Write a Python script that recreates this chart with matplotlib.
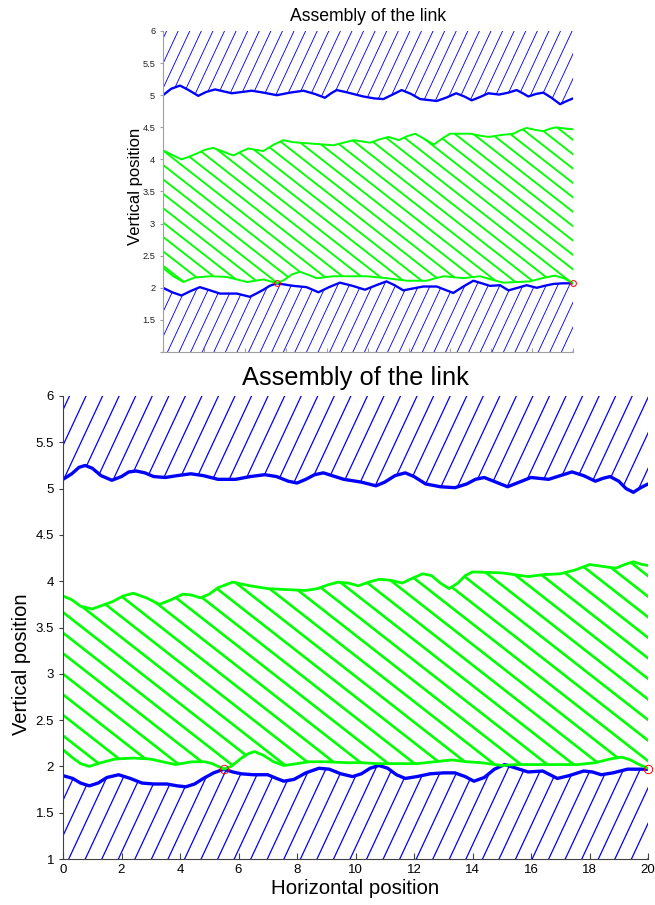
import numpy as np
import matplotlib.pyplot as plt
from matplotlib.collections import LineCollection

plt.rcParams['font.family'] = ['Liberation Sans', 'DejaVu Sans']

# ---- small figure (top) ----
top_hi_x = [0, 0.4, 0.83, 1.25, 1.72, 2.1, 2.54, 2.95, 3.35, 3.85, 4.33, 4.9, 5.55, 6.2, 6.85,
            7.4, 7.9, 8.2, 8.47, 8.9, 9.77, 10.3, 10.75, 11.2, 11.64, 12.1, 12.54, 13.35, 13.8,
            14.3, 14.7, 15.06, 15.45, 15.87, 16.4, 16.85, 17.25, 17.55, 17.82, 18.2, 18.55,
            18.95, 19.37, 19.7, 20]
top_hi_y = [5.0, 5.10, 5.15, 5.08, 4.99, 5.05, 5.09, 5.06, 5.03, 5.05, 5.07, 5.04, 5.0, 5.04, 5.07,
            5.02, 4.96, 5.03, 5.08, 5.05, 4.98, 4.95, 4.94, 5.01, 5.08, 5.02, 4.94, 4.91, 4.96,
            5.03, 4.98, 4.92, 4.97, 5.03, 5.01, 5.04, 5.08, 5.03, 4.98, 5.02, 5.04,
            4.96, 4.86, 4.91, 4.95]

top_gup_x = [0, 0.45, 0.9, 1.25, 1.64, 2.05, 2.45, 2.95, 3.43, 3.8, 4.16, 4.5, 4.89, 5.4, 5.87,
             6.3, 6.68, 7.5, 8.3, 8.8, 9.3, 9.7, 10.1, 10.55, 11.0, 11.5, 11.9, 12.3, 12.75,
             13.2, 13.6, 14.0, 15.0, 15.45, 15.9, 16.5, 17.1, 17.4, 17.74, 18.15, 18.55, 18.9,
             19.2, 19.6, 20]
top_gup_y = [4.14, 4.07, 4.0, 4.04, 4.09, 4.15, 4.18, 4.12, 4.06, 4.12, 4.17, 4.15, 4.13, 4.23, 4.30,
             4.27, 4.26, 4.24, 4.22, 4.26, 4.30, 4.28, 4.26, 4.31, 4.35, 4.30, 4.36, 4.40, 4.32,
             4.23, 4.32, 4.40, 4.40, 4.37, 4.35, 4.38, 4.40, 4.45, 4.49, 4.46, 4.44, 4.48,
             4.50, 4.48, 4.47]

top_glo_x = [0, 0.5, 1.0, 1.3, 1.56, 2.3, 3.1, 3.6, 4.1, 4.5, 4.9, 5.25, 5.55, 5.9, 6.3, 6.68,
             7.1, 7.5, 8.3, 9.93, 10.9, 11.9, 12.86, 13.3, 13.7, 14.65, 15.46, 16.0, 16.6, 17.9,
             18.5, 19.1, 19.55, 20]
top_glo_y = [2.31, 2.18, 2.09, 2.13, 2.16, 2.18, 2.17, 2.13, 2.09, 2.11, 2.13, 2.10, 2.07, 2.12, 2.21, 2.25,
             2.20, 2.15, 2.18, 2.18, 2.15, 2.11, 2.11, 2.15, 2.18, 2.15, 2.18, 2.13, 2.08, 2.10,
             2.15, 2.19, 2.15, 2.07]

top_lo_x = [0, 0.45, 0.9, 1.35, 1.8, 2.3, 2.78, 3.6, 4.24, 4.55, 4.9, 5.2, 5.55, 5.95, 6.36, 7.0,
            7.3, 7.58, 8.1, 8.63, 9.25, 9.85, 10.4, 10.9, 11.3, 11.72, 12.2, 12.7, 13.35, 13.75,
            14.16, 14.65, 15.14, 15.55, 15.95, 16.44, 16.85, 17.3, 17.74, 18.23, 18.6, 19.04,
            19.5, 20]
top_lo_y = [2.0, 1.93, 1.88, 1.95, 2.01, 1.96, 1.91, 1.91, 1.86, 1.91, 1.97, 2.03, 2.07, 2.05, 2.03, 2.01,
            1.97, 1.93, 2.01, 2.08, 2.03, 1.97, 2.04, 2.10, 2.04, 1.96, 1.99, 2.02, 2.02, 1.97,
            1.92, 2.02, 2.11, 2.07, 2.03, 2.04, 1.96, 2.0, 2.04, 2.0, 2.03, 2.06,
            2.07, 2.07]

top_mark_x = [5.55, 20]
top_mark_y = [2.07, 2.07]

# ---- large figure (bottom) ----
bot_hi_x = [0, 0.3, 0.55, 0.76, 1.0, 1.3, 1.67, 2.0, 2.25, 2.5, 2.8, 3.1, 3.5, 3.9, 4.37, 4.8,
            5.3, 5.9, 6.4, 6.9, 7.3, 7.7, 8.0, 8.3, 8.6, 8.9, 9.2, 9.6, 10.2, 10.7, 11.0, 11.35,
            11.7, 12.0, 12.4, 12.9, 13.4, 13.8, 14.1, 14.4, 14.8, 15.2, 15.6, 16.0, 16.6, 17.0,
            17.4, 17.8, 18.2, 18.45, 18.7, 19.0, 19.25, 19.5, 19.75, 20]
bot_hi_y = [5.10, 5.16, 5.23, 5.25, 5.22, 5.14, 5.09, 5.13, 5.18, 5.19, 5.17, 5.13, 5.12, 5.14, 5.16, 5.14,
            5.10, 5.10, 5.13, 5.15, 5.13, 5.08, 5.06, 5.10, 5.15, 5.17, 5.14, 5.10, 5.07, 5.03, 5.07, 5.14,
            5.17, 5.13, 5.05, 5.02, 5.01, 5.05, 5.10, 5.12, 5.07, 5.02, 5.07, 5.12, 5.10, 5.14,
            5.18, 5.14, 5.08, 5.11, 5.13, 5.08, 5.00, 4.96, 5.01, 5.05]

bot_gup_x = [0, 0.3, 0.6, 1.0, 1.35, 1.7, 2.05, 2.4, 2.85, 3.3, 3.7, 4.1, 4.4, 4.7, 5.0, 5.3, 5.8,
             6.4, 7.0, 7.6, 8.3, 8.7, 9.05, 9.4, 9.75, 10.1, 10.45, 10.8, 11.2, 11.6, 12.0, 12.3,
             12.6, 12.9, 13.2, 13.5, 13.75, 14.0, 15.0, 15.45, 15.9, 16.4, 17.0, 17.5, 18.0, 18.45,
             18.9, 19.2, 19.5, 19.8, 20]
bot_gup_y = [3.84, 3.80, 3.73, 3.70, 3.74, 3.78, 3.84, 3.87, 3.82, 3.75, 3.80, 3.86, 3.85, 3.82, 3.86, 3.93, 3.99,
             3.95, 3.92, 3.91, 3.90, 3.92, 3.96, 3.99, 3.98, 3.95, 3.99, 4.02, 4.01, 3.98, 4.04, 4.08,
             4.06, 3.98, 3.92, 3.98, 4.06, 4.10, 4.09, 4.07, 4.05, 4.07, 4.08, 4.12, 4.18, 4.16,
             4.14, 4.18, 4.21, 4.18, 4.17]

bot_glo_x = [0, 0.3, 0.6, 0.9, 1.3, 1.78, 2.4, 2.98, 3.4, 3.85, 4.4, 4.85, 5.1, 5.3, 5.5, 5.75,
             6.1, 6.35, 6.55, 6.85, 7.2, 7.55, 8.0, 8.4, 9.0, 9.7, 10.2, 10.7, 11.4, 12.1, 12.7,
             13.3, 13.8, 14.3, 15.0, 15.5, 16.1, 16.8, 17.6, 18.2, 18.7, 19.1, 19.4, 19.7, 20]
bot_glo_y = [2.18, 2.10, 2.03, 2.0, 2.04, 2.08, 2.09, 2.08, 2.05, 2.02, 2.05, 2.05, 2.03, 2.0, 1.97, 2.0,
             2.09, 2.14, 2.16, 2.12, 2.05, 2.01, 2.03, 2.05, 2.05, 2.04, 2.04, 2.03, 2.03, 2.03, 2.05,
             2.07, 2.05, 2.04, 2.01, 2.02, 2.02, 2.02, 2.02, 2.04, 2.08, 2.10, 2.07, 2.02, 1.98]

bot_lo_x = [0, 0.33, 0.6, 0.9, 1.2, 1.5, 1.9, 2.3, 2.7, 3.1, 3.55, 3.9, 4.2, 4.5, 4.8, 5.15, 5.5,
            5.8, 6.1, 6.5, 7.0, 7.3, 7.55, 7.9, 8.3, 8.75, 9.1, 9.5, 9.9, 10.2, 10.5, 10.8, 11.1,
            11.4, 11.7, 12.1, 12.55, 13.0, 13.4, 13.75, 14.05, 14.4, 14.75, 15.1, 15.5, 15.9,
            16.4, 16.65, 16.9, 17.3, 17.8, 18.1, 18.4, 18.8, 19.3, 20]
bot_lo_y = [1.90, 1.87, 1.82, 1.79, 1.82, 1.88, 1.91, 1.87, 1.82, 1.81, 1.81, 1.79, 1.78, 1.81, 1.87, 1.93, 1.97,
            1.94, 1.92, 1.91, 1.91, 1.87, 1.84, 1.86, 1.93, 1.98, 1.97, 1.92, 1.89, 1.92, 1.98, 2.01, 1.98,
            1.91, 1.87, 1.89, 1.92, 1.93, 1.93, 1.89, 1.84, 1.88, 1.97, 2.02, 1.98, 1.94,
            1.95, 1.91, 1.87, 1.90, 1.95, 1.94, 1.91, 1.93, 1.97, 1.97]

bot_mark_x = [5.5, 20]
bot_mark_y = [1.97, 1.97]

xticks = np.arange(0, 21, 2)
yticks = np.arange(1, 6.01, 0.5)
ylabels = ['1', '1.5', '2', '2.5', '3', '3.5', '4', '4.5', '5', '5.5', '6']

fig = plt.figure(figsize=(6.55, 9.05), dpi=100)
ax1 = fig.add_axes([163 / 655, 1 - 352 / 905, 410 / 655, 321 / 905])
ax2 = fig.add_axes([63 / 655, 1 - 859 / 905, 585 / 655, 463 / 905])


def hatch(ax, px, py, angle, gap, color, lw):
    # outline polygon (invisible) used as clip path for the hatch lines
    patch = ax.fill(px, py, facecolor='none', edgecolor='none')[0]
    pos = ax.get_position()
    w = pos.width * fig.get_figwidth() * fig.dpi
    h = pos.height * fig.get_figheight() * fig.dpi
    t = np.deg2rad(angle)
    d = np.array([np.cos(t), np.sin(t)])
    n = np.array([-np.sin(t), np.cos(t)])
    proj = np.array([[0, 0], [w, 0], [0, h], [w, h]]) @ n
    L = 2 * np.hypot(w, h)
    segs = []
    for c in np.arange(proj.min(), proj.max() + gap, gap):
        p0 = c * n - L * d
        p1 = c * n + L * d
        segs.append([(p0[0] / w, p0[1] / h), (p1[0] / w, p1[1] / h)])
    lc = LineCollection(segs, colors=color, linewidths=lw, transform=ax.transAxes)
    lc.set_clip_path(patch)
    ax.add_collection(lc, autolim=False)


def panel(ax, hx, hy, gux, guy, glx, gly, lx, ly, mx, my, scale, fs):
    ax.set_xlim(0, 20)
    ax.set_ylim(1, 6)
    gap_b = 15.0 * scale
    gap_g = 16.2 * scale
    hatch(ax, hx + [20, 0], hy + [6, 6], 65, gap_b, 'blue', 0.9 * scale)
    hatch(ax, lx + [20, 0], ly + [1, 1], 65, gap_b, 'blue', 0.9 * scale)
    hatch(ax, glx + gux[::-1], gly + guy[::-1], -38, gap_g, (0, 1, 0), 1.9 * scale)
    kw = dict(solid_joinstyle='round', solid_capstyle='round')
    ax.plot(hx, hy, color='blue', lw=2.4 * scale, **kw)
    ax.plot(lx, ly, color='blue', lw=2.4 * scale, **kw)
    ax.plot(gux, guy, color=(0, 1, 0), lw=2.0 * scale, **kw)
    ax.plot(glx, gly, color=(0, 1, 0), lw=2.0 * scale, **kw)
    ax.plot(mx, my, 'o', mfc='none', mec='red', ms=6 * scale, mew=0.7, clip_on=False, zorder=5)
    ax.set_xticks(xticks)
    ax.set_yticks(yticks)
    ax.set_yticklabels(ylabels)
    ax.spines['top'].set_visible(False)
    ax.spines['right'].set_visible(False)
    ax.tick_params(axis='x', direction='in', length=4.3 * scale, labelsize=fs)
    ax.tick_params(axis='y', direction='out', length=3 * scale, labelsize=fs)


panel(ax1, top_hi_x, top_hi_y, top_gup_x, top_gup_y, top_glo_x, top_glo_y,
      top_lo_x, top_lo_y, top_mark_x, top_mark_y, 0.7, 6.7)
panel(ax2, bot_hi_x, bot_hi_y, bot_gup_x, bot_gup_y, bot_glo_x, bot_glo_y,
      bot_lo_x, bot_lo_y, bot_mark_x, bot_mark_y, 1.0, 9.5)

ax1.tick_params(axis='x', labelbottom=False)
ax1.set_yticklabels([''] + ylabels[1:])
for s in ['left', 'bottom']:
    ax1.spines[s].set_color('#a0a0a0')
    ax2.spines[s].set_color('#404040')
ax1.tick_params(colors='#a0a0a0', labelcolor='#202020')
ax2.tick_params(colors='#404040', labelcolor='black')

ax1.set_title('Assembly of the link', fontsize=12.7, pad=7)
ax1.set_ylabel('Vertical position', fontsize=12)
ax1.yaxis.set_label_coords(-0.049, 0.517)

ax2.set_title('Assembly of the link', fontsize=18.4, pad=8)
ax2.set_ylabel('Vertical position', fontsize=14.5)
ax2.yaxis.set_label_coords(-0.055, 0.42)
ax2.set_xlabel('Horizontal position', fontsize=14.8, labelpad=2)

fig.savefig('out.png', dpi=100)
